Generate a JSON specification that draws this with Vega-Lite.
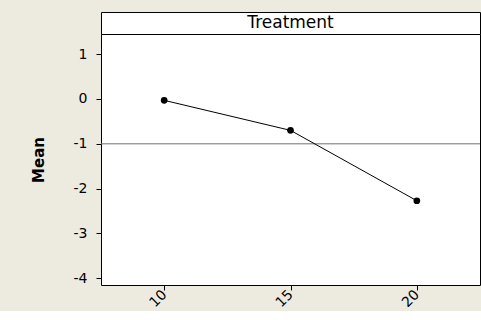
{
  "$schema": "https://vega.github.io/schema/vega-lite/v6.json",
  "background": "#EDEAE0",
  "padding": {"left": 30, "top": 11, "right": 0, "bottom": 0},
  "spacing": 0,
  "bounds": "flush",
  "config": {
    "view": {"stroke": "black", "strokeWidth": 1, "fill": "white"},
    "font": "DejaVu Sans",
    "axis": {"grid": false, "domain": false, "tickColor": "black", "tickSize": 5, "labelColor": "black", "labelFontSize": 14, "labelFont": "DejaVu Sans", "titleColor": "black"}
  },
  "datasets": {
    "means": [
      {"Treatment": 10, "Mean": -0.03},
      {"Treatment": 15, "Mean": -0.70},
      {"Treatment": 20, "Mean": -2.27}
    ],
    "header": [{"label": "Treatment"}]
  },
  "vconcat": [
    {
      "width": 379,
      "height": 22,
      "view": {"stroke": "black", "strokeWidth": 1, "fill": "white"},
      "data": {"name": "header"},
      "mark": {"type": "text", "fontSize": 17, "color": "black", "font": "DejaVu Sans", "baseline": "middle", "align": "center"},
      "encoding": {"text": {"field": "label", "type": "nominal"}}
    },
    {
      "width": 379,
      "height": 251,
      "data": {"name": "means"},
      "encoding": {
        "y": {"field": "Mean", "type": "quantitative", "title": "Mean",
          "scale": {"domain": [-4.15, 1.45], "nice": false, "zero": false},
          "axis": {"values": [-4, -3, -2, -1, 0, 1], "labelPadding": 9,
            "labelExpr": "datum.value < 0 ? '-' + abs(datum.value) : '' + datum.value",
            "titleFont": "DejaVu Sans", "titleFontSize": 15, "titleFontWeight": "bold", "titlePadding": 27}}
      },
      "layer": [
        {
          "mark": {"type": "rule", "color": "#707070", "strokeWidth": 1},
          "encoding": {
            "y": {"aggregate": "mean", "field": "Mean", "type": "quantitative", "title": "Mean"}
          }
        },
        {
          "mark": {"type": "line", "color": "black", "strokeWidth": 1},
          "encoding": {
            "x": {"field": "Treatment", "type": "quantitative", "title": null,
              "scale": {"domain": [7.5, 22.5], "nice": false, "zero": false},
              "axis": {"values": [10, 15, 20], "labelAngle": -45, "labelAlign": "right", "labelBaseline": "middle", "labelPadding": 2}}
          }
        },
        {
          "mark": {"type": "point", "filled": true, "color": "black", "size": 45, "opacity": 1},
          "encoding": {
            "x": {"field": "Treatment", "type": "quantitative", "title": null}
          }
        }
      ]
    }
  ]
}
